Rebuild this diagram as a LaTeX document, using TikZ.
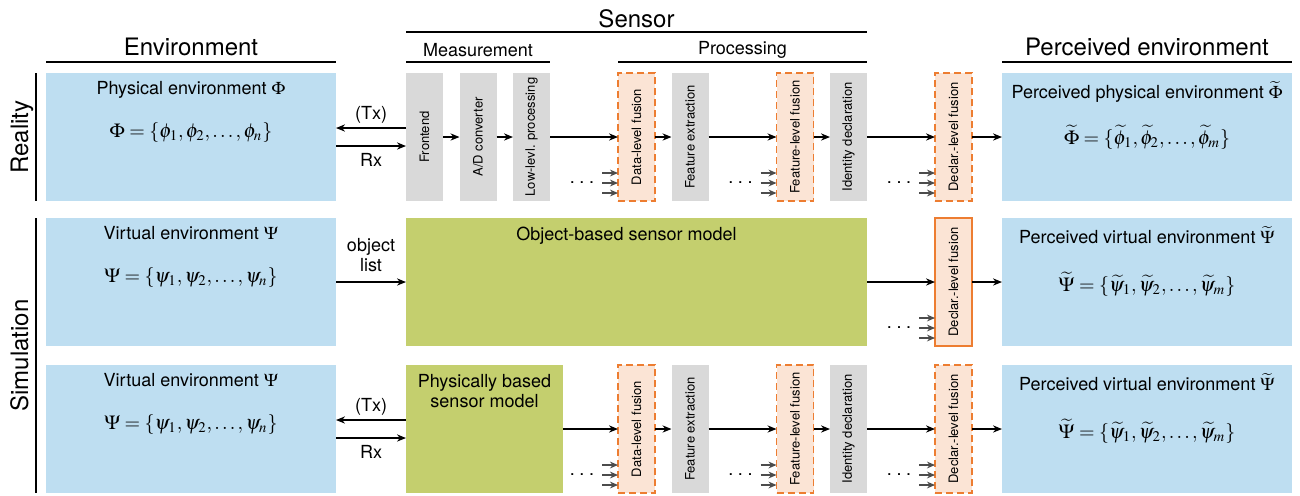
\documentclass[tikz,border=0pt]{standalone}
\usepackage{mathptmx}
\usepackage[no-math]{fontspec}
\setmainfont{TeX Gyre Heros}
\usepackage{graphicx}
\usetikzlibrary{arrows.meta,positioning,calc}

\definecolor{envblue}{RGB}{190,222,241}
\definecolor{boxgray}{RGB}{217,217,217}
\definecolor{modelgreen}{RGB}{196,207,110}
\definecolor{fusefill}{RGB}{251,228,213}
\definecolor{fuseline}{RGB}{237,125,49}

\newcommand{\vtxt}[1]{\rotatebox{90}{#1}}
\newcommand{\moredots}{.\hspace{2.3pt}.\hspace{2.3pt}.}

\begin{document}
\begin{tikzpicture}[x=0.5pt,y=-0.5pt,
      envbox/.style={
         fill=envblue,
         minimum width=145pt,
         minimum height=64pt,
         inner sep=0pt,
         outer sep=0pt},
      stepbox/.style={
         fill=boxgray,
         minimum width=18.5pt,
         minimum height=64pt,
         inner sep=0pt,
         outer sep=0pt,
         font=\fontsize{6.5}{7}\selectfont},
      fusebox/.style={
         stepbox,
         fill=fusefill,
         draw=fuseline,
         line width=0.7pt,
         dash pattern=on 3.5pt off 2pt},
      modelbox/.style={fill=modelgreen, minimum height=64pt, inner sep=0pt, outer sep=0pt},
      txt/.style={font=\fontsize{9}{10}\selectfont, inner sep=0pt},
      formula/.style={font=\fontsize{10}{12}\selectfont, inner sep=0pt},
      heading/.style={font=\fontsize{12}{14}\selectfont, inner sep=0pt},
      subheading/.style={font=\fontsize{9}{10}\selectfont, inner sep=0pt},
      hline/.style={line width=1pt},
      vline/.style={line width=0.8pt},
      myarrow/.style={-{Stealth[length=4.5pt,width=3.6pt]}, line width=0.6pt},
      grayarrow/.style={-{Stealth[length=4pt,width=3.4pt]}, line width=0.7pt, draw=black!70},
      node distance=8.25pt
      ]
      \useasboundingbox (0,0) rectangle (1300,495);

      % reality
      \node[envbox] (env1) at (191,137) {};
      \node[stepbox,right=35pt of env1] (fe) {\vtxt{Frontend}};
      \node[stepbox,right=of fe] (adc) {\vtxt{A/D converter}};
      \node[stepbox,right=of adc] (low) {\vtxt{Low-levl. processing}};
      \node[fusebox,right=34pt of low] (dfus1) {\vtxt{Data-level fusion}};
      \node[stepbox,right=of dfus1] (fext1) {\vtxt{Feature extraction}};
      \node[fusebox,right=34pt of fext1] (ffus1) {\vtxt{Feature-level fusion}};
      \node[stepbox,right=of ffus1] (idd1) {\vtxt{Identity declaration}};
      \node[fusebox,right=34pt of idd1] (cfus1) {\vtxt{Declar.-level fusion}};
      \node[envbox,right=15pt of cfus1] (penv1) {};

      % simulation, object list
      \node[envbox] (env2) at (191,282) {};
      \node[modelbox,minimum width=230.5pt,right=35pt of env2] (obj) {};
      \node[fusebox,solid,right=34pt of obj] (cfus2) {\vtxt{Declar.-level fusion}};
      \node[envbox,right=15pt of cfus2] (penv2) {};

      % simulation, physically based
      \node[envbox] (env3) at (191,429) {};
      \node[modelbox,minimum width=78.5pt,right=35pt of env3] (phys) {};
      \node[fusebox,right=27.5pt of phys] (dfus3) {\vtxt{Data-level fusion}};
      \node[stepbox,right=of dfus3] (fext3) {\vtxt{Feature extraction}};
      \node[fusebox,right=34pt of fext3] (ffus3) {\vtxt{Feature-level fusion}};
      \node[stepbox,right=of ffus3] (idd3) {\vtxt{Identity declaration}};
      \node[fusebox,right=34pt of idd3] (cfus3) {\vtxt{Declar.-level fusion}};
      \node[envbox,right=15pt of cfus3] (penv3) {};

      % box texts
      \node[txt,below=4pt of env1.north] (env1t) {Physical environment $\Phi$};
      \node[formula] (env1f) at ([yshift=2pt]env1.center) {$\Phi=\{\phi_1,\phi_2,\ldots,\phi_n\}$};
      \node[txt,below=4pt of penv1.north] (penv1t) {Perceived physical environment $\widetilde{\Phi}$};
      \node[formula] (penv1f) at (penv1.center) {$\widetilde{\Phi}=\{\widetilde{\phi}_1,\widetilde{\phi}_2,\ldots,\widetilde{\phi}_m\}$};
      \foreach \e in {2,3} {
         \node[txt,below=4pt of env\e.north] (env\e t) {Virtual environment $\Psi$};
         \node[formula] (env\e f) at ([yshift=2pt]env\e.center) {$\Psi=\{\psi_1,\psi_2,\ldots,\psi_n\}$};
         \node[txt,below=4pt of penv\e.north] (penv\e t) {Perceived virtual environment $\widetilde{\Psi}$};
         \node[formula] (penv\e f) at ([yshift=-1pt]penv\e.center) {$\widetilde{\Psi}=\{\widetilde{\psi}_1,\widetilde{\psi}_2,\ldots,\widetilde{\psi}_m\}$};
      }
      \node[txt,below=4.5pt of obj.north,xshift=-5pt] (objt) {Object-based sensor model};
      \node[txt,align=center,below=4.5pt of phys.north] (physt) {Physically based\\sensor model};

      % headings
      \draw[hline] ([yshift=5.5pt]env1.north west) -- ([yshift=5.5pt]env1.north east)
         node[heading,midway,anchor=base,yshift=3.2pt] (envh) {Environment};
      \draw[hline] ([yshift=5.5pt]penv1.north west) -- ([yshift=5.5pt]penv1.north east)
         node[heading,midway,anchor=base,yshift=3.2pt] (penvh) {Perceived environment};
      \draw[hline] ([yshift=20.5pt]fe.north west) -- ([yshift=20.5pt]idd1.north east)
         node[heading,midway,anchor=base,yshift=2.5pt] (sensh) {Sensor};
      \draw[hline] ([yshift=5.5pt]fe.north west) -- ([yshift=5.5pt]low.north east)
         node[subheading,midway,anchor=base,yshift=3pt] (meash) {Measurement};
      \draw[hline] ([yshift=5.5pt]dfus1.north west) -- ([yshift=5.5pt]idd1.north east)
         node[subheading,midway,anchor=base,yshift=3.8pt] (proch) {Processing};

      % reality / simulation
      \draw[vline] ([xshift=-5pt]env1.north west) -- ([xshift=-5pt]env1.south west);
      \node[heading,rotate=90,anchor=base] (realt) at ([xshift=-9pt]env1.west) {Reality};
      \draw[vline] ([xshift=-5pt]env2.north west) -- ([xshift=-5pt]env3.south west);
      \node[heading,rotate=90,anchor=base] (simt) at ($(env2.west)!0.5!(env3.west)+(-9pt,0)$) {Simulation};

      % Tx / Rx and object list
      \foreach \e/\s in {env1/fe,env3/phys} {
         \draw[myarrow] ([yshift=4.5pt]\s.west) -- node[txt,above=2pt] {(Tx)} ([yshift=4.5pt]\e.east);
         \draw[myarrow] ([yshift=-4.5pt]\e.east) -- node[txt,below=3.5pt] {Rx} ([yshift=-4.5pt]\s.west);
      }
      \draw[myarrow] (env2) -- node[txt,above=5pt,align=center] {object\\list} (obj);

      \foreach \i/\j in {fe/adc,adc/low,low/dfus1,dfus1/fext1,fext1/ffus1,ffus1/idd1,idd1/cfus1,cfus1/penv1,
         obj/cfus2,cfus2/penv2,
         phys/dfus3,dfus3/fext3,fext3/ffus3,ffus3/idd3,idd3/cfus3,cfus3/penv3}
         \draw[myarrow] (\i) -- (\j);

      % further inputs of the fusion steps
      \foreach \f in {dfus1,ffus1,cfus1,cfus2,dfus3,ffus3,cfus3} {
         \node[txt] (\f-dots) at ($(\f.south west)+(-18pt,9pt)$) {\moredots};
         \foreach \k in {1,2,3} {
            \coordinate (\f-in\k) at ($(\f.south west)+(-8pt,\k*5pt-1pt)$);
            \draw[grayarrow] (\f-in\k) -- (\f-in\k -| \f.west);
         }
      }

\end{tikzpicture}
\end{document}
